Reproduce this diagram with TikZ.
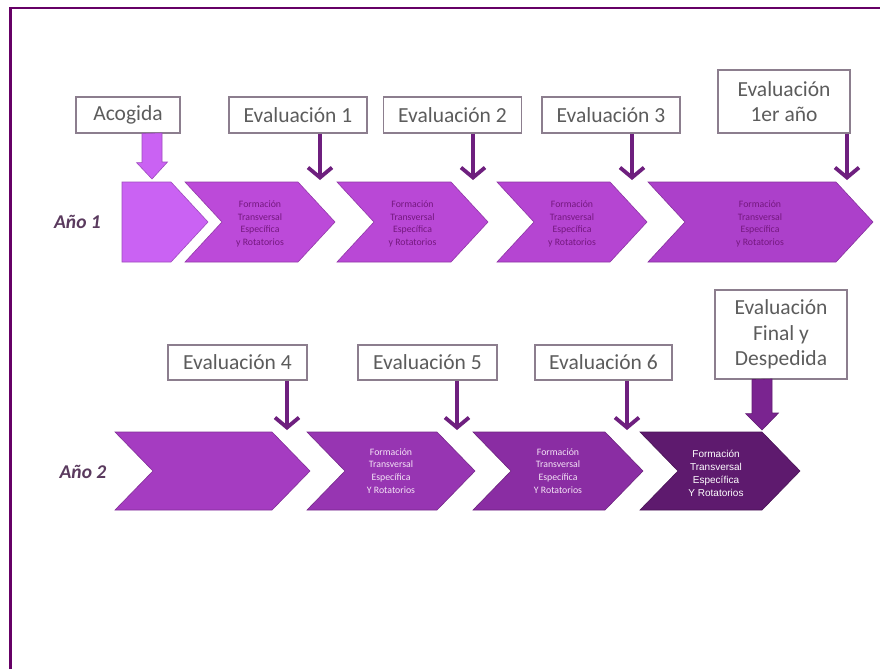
\documentclass[tikz,border=0pt]{standalone}
\usepackage{fontspec}
\setmainfont{Carlito}
\newfontfamily\arialfont{Liberation Sans}
\usetikzlibrary{arrows.meta,calc}

\definecolor{frameC}{HTML}{660066}
\definecolor{evArrow}{HTML}{6E1F7E}
\definecolor{boxLine}{HTML}{8C7E8E}
\definecolor{boxText}{HTML}{5C5C5C}
\definecolor{anoText}{HTML}{5A3A5E}
\definecolor{pA}{HTML}{CA62F3}
\definecolor{pB}{HTML}{BC4AD9}
\definecolor{pC}{HTML}{B948D6}
\definecolor{pD}{HTML}{B545D2}
\definecolor{pE}{HTML}{AC40CA}
\definecolor{qA}{HTML}{A53CC1}
\definecolor{qB}{HTML}{9735B2}
\definecolor{qC}{HTML}{8A2DA3}
\definecolor{qD}{HTML}{5E1A6E}
\definecolor{finArrow}{HTML}{7A2490}
\definecolor{txtRow1}{HTML}{74187F}
\definecolor{txtRow2}{HTML}{F4E4F6}

\tikzset{
  labelbox/.style={draw=boxLine, line width=1.1pt, fill=white, text=boxText,
    font=\fontsize{21.5}{25.5}\selectfont, align=center, inner sep=0pt},
  stage/.style={line width=0.6pt, draw=#1!78!black, fill=#1},
  stagetext/.style={align=center, inner sep=0pt, font=\fontsize{9.8}{12.7}\selectfont},
  evarrow/.style={draw=evArrow, line width=3.8pt,
    -{Straight Barb[length=10pt,width=24pt]}},
  yearlabel/.style={text=anoText, font=\fontsize{19.5}{22}\selectfont\bfseries\itshape}
}

\begin{document}
\begin{tikzpicture}[x=1pt,y=-1pt]
\useasboundingbox (0,0) rectangle (880,669);
\fill[white] (0,0) rectangle (880,669);

% outer frame (top and left edges)
\draw[frameC, line width=2.2pt] (10.5,669) -- (10.5,8.2) -- (880,8.2);

% year labels
\node[yearlabel] (ano1) at (77.5,222) {Año 1};
\node[yearlabel] (ano2) at (83,472) {Año 2};

% ---------- first year ----------
\draw[stage=pA] (122,182) -- (171,182) -- (208,222) -- (171,262) -- (122,262) -- cycle;
\draw[stage=pB] (185,182) -- (298,182) -- (335,222) -- (298,262) -- (185,262) -- (222,222) -- cycle;
\draw[stage=pC] (337,182) -- (451,182) -- (488,222) -- (451,262) -- (337,262) -- (374,222) -- cycle;
\draw[stage=pD] (497,182) -- (610,182) -- (647,222) -- (610,262) -- (497,262) -- (534,222) -- cycle;
\draw[stage=pE] (648,182) -- (836,182) -- (873,222) -- (836,262) -- (648,262) -- (685,222) -- cycle;

\node[stagetext, text=txtRow1] (f1) at (260,224) {Formación\\Transversal\\Específica\\y Rotatorios};
\node[stagetext, text=txtRow1] (f2) at (412.5,224) {Formación\\Transversal\\Específica\\y Rotatorios};
\node[stagetext, text=txtRow1] (f3) at (572,224) {Formación\\Transversal\\Específica\\y Rotatorios};
\node[stagetext, text=txtRow1] (f4) at (760,224) {Formación\\Transversal\\Específica\\y Rotatorios};

\node[labelbox, minimum width=104pt, minimum height=36pt] (acog) at (128,115) {Acogida};
\node[labelbox, minimum width=138pt, minimum height=36pt] (e1) at (298,115) {Evaluación 1};
\node[labelbox, minimum width=138pt, minimum height=36pt] (e2) at (452.5,115) {Evaluación 2};
\node[labelbox, minimum width=138pt, minimum height=36pt] (e3) at (611,115) {Evaluación 3};
\node[labelbox, minimum width=132pt, minimum height=63pt] (e1a) at (784,101.5) {Evaluación\\1er año};

\coordinate (ka) at (152,179);
\coordinate (t1) at (320,180);
\coordinate (t2) at (473,180);
\coordinate (t3) at (632,180);
\coordinate (t4) at (847,180);

\draw[stage=pA] ($(acog.south -| ka)+(-10,0)$) -- ++(0,29) -- ++(-5.5,0) -- (ka)
  -- ++(15.5,-17) -- ++(-5.5,0) -- ++(0,-29) -- cycle;
\draw[evarrow] (e1.south -| t1) -- (t1);
\draw[evarrow] (e2.south -| t2) -- (t2);
\draw[evarrow] (e3.south -| t3) -- (t3);
\draw[evarrow] (e1a.south -| t4) -- (t4);

% ---------- second year ----------
\draw[stage=qA] (115,432) -- (272,432) -- (310,471) -- (272,510) -- (115,510) -- (153,471) -- cycle;
\draw[stage=qB] (307,432) -- (437,432) -- (475,471) -- (437,510) -- (307,510) -- (345,471) -- cycle;
\draw[stage=qC] (473,432) -- (605,432) -- (643,471) -- (605,510) -- (473,510) -- (511,471) -- cycle;
\draw[stage=qD] (640,432) -- (762,432) -- (800,471) -- (762,510) -- (640,510) -- (678,471) -- cycle;

\node[stagetext, text=txtRow2] (g1) at (391,471) {Formación\\Transversal\\Específica\\Y Rotatorios};
\node[stagetext, text=txtRow2] (g2) at (558,471) {Formación\\Transversal\\Específica\\Y Rotatorios};
\node[stagetext, text=white, font=\arialfont\fontsize{10}{13}\selectfont] (g3) at (716,473) {Formación\\Transversal\\Específica\\Y Rotatorios};

\node[labelbox, minimum width=139pt, minimum height=35pt] (e4) at (237.5,362.5) {Evaluación 4};
\node[labelbox, minimum width=139pt, minimum height=35pt] (e5) at (427.5,362.5) {Evaluación 5};
\node[labelbox, minimum width=137pt, minimum height=35pt] (e6) at (603.5,362.5) {Evaluación 6};
\node[labelbox, minimum width=132pt, minimum height=89pt] (efin) at (781,334.5) {Evaluación\\Final y\\Despedida};

\coordinate (t5) at (287,430);
\coordinate (t6) at (457,430);
\coordinate (t7) at (627,430);
\coordinate (kf) at (762,430);

\draw[evarrow] (e4.south -| t5) -- (t5);
\draw[evarrow] (e5.south -| t6) -- (t6);
\draw[evarrow] (e6.south -| t7) -- (t7);
\draw[line width=0.6pt, draw=finArrow!80!black, fill=finArrow]
  ($(efin.south -| kf)+(-10,0)$) -- ++(0,34) -- ++(-6.5,0) -- (kf)
  -- ++(16.5,-17) -- ++(-6.5,0) -- ++(0,-34) -- cycle;
\end{tikzpicture}
\end{document}
